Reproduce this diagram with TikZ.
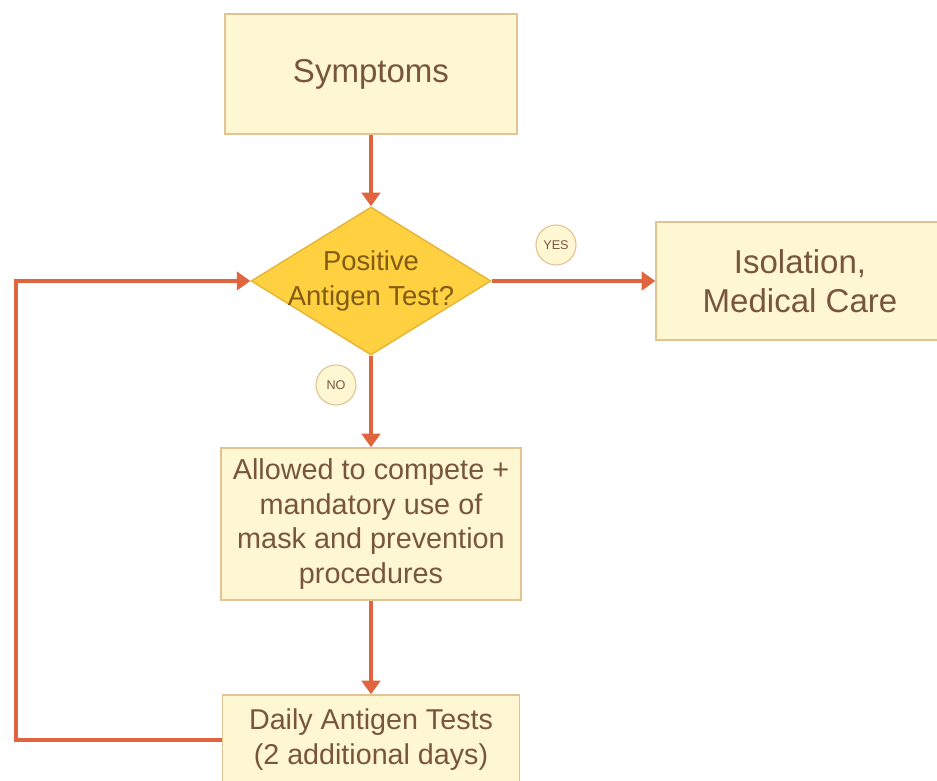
\documentclass[tikz,border=0pt]{standalone}
\usepackage{fontspec}
\setmainfont{Liberation Sans}
\usepackage{xcolor}
\definecolor{boxfill}{RGB}{255, 246, 210}
\definecolor{boxdraw}{RGB}{226, 196, 148}
\definecolor{boxtext}{RGB}{120, 86, 62}
\definecolor{goldfill}{RGB}{255, 208, 64}
\definecolor{golddraw}{RGB}{232, 180, 52}
\definecolor{goldtext}{RGB}{130, 92, 20}
\definecolor{flowred}{RGB}{224, 100, 62}
\usetikzlibrary{shapes.geometric,arrows.meta,positioning,calc}

\begin{document}
\begin{tikzpicture}[
    stepbox/.style={
        rectangle,
        fill=boxfill,
        draw=boxdraw,
        line width=1pt,
        align=center,
        text=boxtext,
        inner sep=0pt
    },
    decision/.style={
        diamond,
        aspect=1.62,
        fill=goldfill,
        draw=golddraw,
        line width=1pt,
        align=center,
        text=goldtext,
        inner sep=-0.115cm,
        minimum width=5.95cm,
        minimum height=3.675cm,
        font=\fontsize{19.5}{24.8}\selectfont
    },
    answer/.style={
        circle,
        fill=boxfill,
        draw=boxdraw,
        line width=0.8pt,
        minimum size=1.0cm,
        inner sep=0pt,
        text=boxtext,
        font=\fontsize{9}{10}\selectfont
    },
    arrow/.style={-{Triangle[length=0.34cm,width=0.46cm]},line width=2.8pt,flowred}
]
    \useasboundingbox (0,0) rectangle (23.425,-19.525);

    % Steps
    \node[stepbox, minimum width=7.3cm, minimum height=3cm, font=\fontsize{23.5}{28}\selectfont] (symptoms) at (9.275,-1.85) {Symptoms};
    \node[decision] (test) at (9.275,-7.025) {Positive\\Antigen Test?};
    \node[stepbox, minimum width=7.2cm, minimum height=2.95cm, font=\fontsize{23.5}{27.6}\selectfont] (isolation) at (20.0,-7.025) {Isolation,\\Medical Care};
    \node[stepbox, minimum width=7.5cm, minimum height=3.8cm, font=\fontsize{20.5}{24.8}\selectfont] (allowed) at (9.275,-13.1) {Allowed to compete +\\mandatory use of\\mask and prevention\\procedures};
    \node[stepbox, minimum width=7.425cm, minimum height=2.25cm, font=\fontsize{20.4}{24.8}\selectfont] (daily) at (9.275,-18.5) {Daily Antigen Tests\\(2 additional days)};

    % Arrows
    \draw[arrow] (symptoms) -- (test);
    \draw[arrow] (test) -- (isolation);
    \draw[arrow] (test) -- (allowed);
    \draw[arrow] (allowed) -- (daily);
    \coordinate (loop) at (0.4,-18.5);
    \draw[arrow] (daily.west) -- (loop) |- (test.west);

    % Labels
    \node[answer] (yes) at (13.9,-6.125) {YES};
    \node[answer] (no) at (8.4,-9.625) {NO};
\end{tikzpicture}
\end{document}
